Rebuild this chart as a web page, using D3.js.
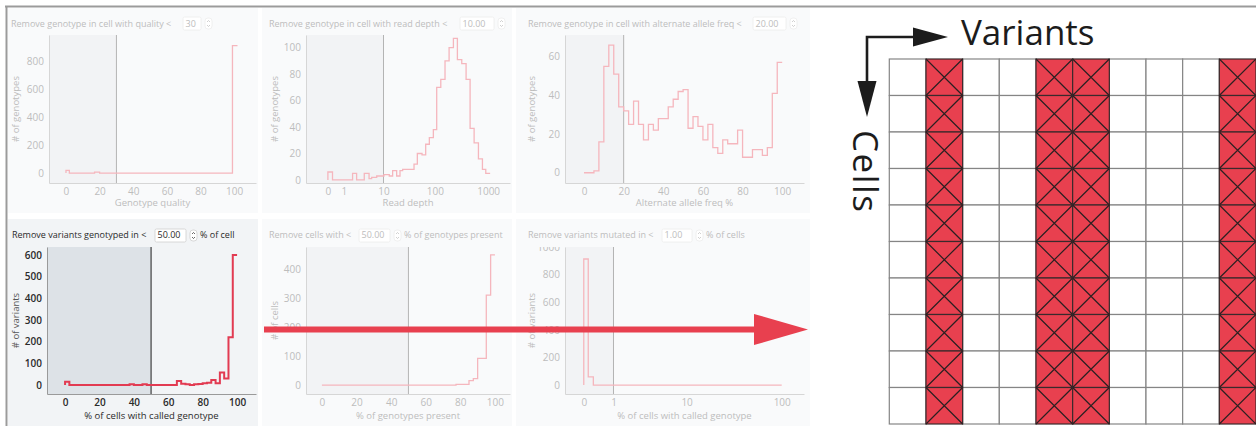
<!DOCTYPE html>
<html lang="en">
<head>
<meta charset="UTF-8">
<script src="https://d3js.org/d3.v7.min.js"></script>
<title>Genotype, variant and cell filters</title>
<style>
  body { margin: 0; background: #fff; }
  svg { display: block; font-family: "Open Sans", sans-serif; }
</style>
</head>
<body>
<div id="chart"></div>
<script>
// ---- data (bin starts, counts per bin, end of last bin) ----
let qualityBins = [0, 2, 17, 20, 99];
let qualityCounts = [19, 0, 7, 0, 910];
let qualityEnd = 102;

let depthBins = [0, 0.22, 1.9, 2.45, 3.8, 4.9, 5.6, 7.2, 10.2, 13.1, 15.3, 18.4, 21.4, 24.1, 40, 46.3,
                 56.9, 66.8, 78.4, 93.4, 108, 129, 155, 185, 223, 265, 320, 386, 459, 546, 658, 782, 903];
let depthCounts = [6, 0, 5, 0, 5, 1, 2, 3, 4, 3, 7, 3, 7, 8, 12, 20,
                   19, 27, 32, 38, 70, 76, 90, 100, 107, 91, 88, 76, 39, 28, 16, 8, 5];
let depthEnd = 1090;

// percentage histograms share the same 2.5% bins
let pctBins = [0, 2.5, 5, 7.5, 10, 12.5, 15, 17.5, 20, 22.5, 25, 27.5, 30, 32.5, 35, 37.5, 40, 42.5, 45, 47.5,
               50, 52.5, 55, 57.5, 60, 62.5, 65, 67.5, 70, 72.5, 75, 77.5, 80, 82.5, 85, 87.5, 90, 92.5, 95, 97.5];
let pctEnd = 100;

let afCounts = [0, 0, 1, 16, 55, 66, 51, 34, 32, 25, 37, 25, 17, 25, 22, 28, 28, 34, 38, 42,
                43, 23, 29, 24, 17, 25, 13, 10, 17, 15, 15, 22, 8, 8, 12, 12, 9, 13, 41, 57];
let genotypedCounts = [15, 0, 0, 0, 0, 0, 0, 0, 0, 0, 0, 0, 0, 0, 0, 4, 0, 0, 4, 0,
                       0, 0, 0, 0, 0, 0, 18, 6, 4, 0, 3, 5, 8, 10, 23, 8, 58, 30, 220, 600];
let presentCounts = [0, 0, 0, 0, 0, 0, 0, 0, 0, 0, 0, 0, 0, 0, 0, 0, 0, 0, 0, 0,
                     0, 0, 0, 0, 0, 0, 0, 0, 0, 0, 0, 2, 2, 2, 15, 22, 92, 92, 311, 450];

let mutatedBins = [0, 0.11, 0.25];
let mutatedCounts = [913, 59, 0];
let mutatedEnd = 100;

// tick labels
let pctTicks = [0, 20, 40, 60, 80, 100];
let depthTicks = [0, 1, 10, 100, 1000];
let mutatedTicks = [0, 1, 10, 100];

// matrix on the right
let variants = ["V1", "V2", "V3", "V4", "V5", "V6", "V7", "V8", "V9", "V10"];
let cells = ["C1", "C2", "C3", "C4", "C5", "C6", "C7", "C8", "C9", "C10"];
let removedVariants = ["V2", "V5", "V6", "V10"];

// ---- drawing ----
let W = 1256, H = 426;
let svg = d3.select("#chart").append("svg")
    .attr("width", W).attr("height", H)
    .attr("viewBox", "0 0 " + W + " " + H);

let faded = {bg: "#f9fafb", shade: "#f2f3f5", text: "#bdbdbd", axis: "#d6d6d6", thr: "#b4b4b4",
             line: "#f5b6bd", lineW: 1.3, weight: 400, box: "#ececec"};
let active = {bg: "#f2f4f6", shade: "#dde2e7", text: "#2a2a2a", axis: "#9a9a9a", thr: "#1e1e1e",
              line: "#e23b52", lineW: 2, weight: 600, box: "#cfcfcf"};

let row1 = {boxTop: 8, boxBottom: 213, top: 35, bottom: 183, titleY: 27, inputY: 17, labelY: 206};
let row2 = {boxTop: 219, boxBottom: 426, top: 247, bottom: 394, titleY: 238, inputY: 229, labelY: 419};

let panels = [
    {row: row1, boxL: 8, boxR: 258, left: 49, right: 256, st: faded, titleX: 11,
     title: "Remove genotype in cell with quality <", value: "30", inputX: 183, inputW: 18, suffix: "",
     x: d3.scaleLinear().domain([-10.1, 113]), xTicks: pctTicks, threshold: 30,
     yDomain: [-71, 986], yTicks: [0, 200, 400, 600, 800], yLabel: "# of genotypes", yLabelX: 16,
     xLabel: "Genotype quality", bins: qualityBins, counts: qualityCounts, end: qualityEnd},
    {row: row1, boxL: 262, boxR: 512, left: 306, right: 510, st: faded, titleX: 269,
     title: "Remove genotype in cell with read depth <", value: "10.00", inputX: 460, inputW: 34, suffix: "",
     x: d3.scaleSymlog().constant(1).domain([-1.57, 2569]), xTicks: depthTicks, threshold: 10,
     yDomain: [-2.3, 109.6], yTicks: [0, 20, 40, 60, 80, 100], yLabel: "# of genotypes", yLabelX: 275,
     xLabel: "Read depth", bins: depthBins, counts: depthCounts, end: depthEnd},
    {row: row1, boxL: 516, boxR: 810, left: 565, right: 804, st: faded, titleX: 528,
     title: "Remove genotype in cell with alternate allele freq <", value: "20.00", inputX: 753, inputW: 33, suffix: "",
     x: d3.scaleLinear().domain([-9.6, 111]), xTicks: pctTicks, threshold: 20,
     yDomain: [-5.3, 71.2], yTicks: [0, 20, 40, 60], yLabel: "# of genotypes", yLabelX: 532,
     xLabel: "Alternate allele freq %", bins: pctBins, counts: afCounts, end: pctEnd},
    {row: row2, boxL: 8, boxR: 258, left: 47, right: 256, st: active, titleX: 12,
     title: "Remove variants genotyped in <", value: "50.00", inputX: 155, inputW: 31, suffix: "% of cell",
     x: d3.scaleLinear().domain([-10.5, 111]), xTicks: pctTicks, threshold: 50,
     yDomain: [-41.5, 637], yTicks: [0, 100, 200, 300, 400, 500, 600], yLabel: "# of variants", yLabelX: 16,
     xLabel: "% of cells with called genotype", bins: pctBins, counts: genotypedCounts, end: pctEnd},
    {row: row2, boxL: 262, boxR: 512, left: 306, right: 510, st: faded, titleX: 269,
     title: "Remove cells with <", value: "50.00", inputX: 359, inputW: 31, suffix: "% of genotypes present",
     x: d3.scaleLinear().domain([-9.2, 108.7]), xTicks: pctTicks, threshold: 50,
     yDomain: [-31, 477], yTicks: [0, 100, 200, 300, 400], yLabel: "# of cells", yLabelX: 275,
     xLabel: "% of genotypes present", bins: pctBins, counts: presentCounts, end: pctEnd},
    {row: row2, boxL: 516, boxR: 810, left: 565, right: 804, st: faded, titleX: 528, clipTop: true,
     title: "Remove variants mutated in <", value: "1.00", inputX: 662, inputW: 30, suffix: "% of cells",
     x: d3.scaleSymlog().constant(1).domain([-0.549, 168.8]), xTicks: mutatedTicks, threshold: 1,
     yDomain: [-65, 1000], yTicks: [0, 200, 400, 600, 800, 1000], yLabel: "# of variants", yLabelX: 532,
     xLabel: "% of cells with called genotype", bins: mutatedBins, counts: mutatedCounts, end: mutatedEnd}
];

function drawPanel(p, i) {
    let r = p.row, st = p.st;
    let textWeight = st.weight == 600 ? 500 : 400;
    let g = svg.append("g");

    g.append("rect")
        .attr("x", p.boxL).attr("y", r.boxTop)
        .attr("width", p.boxR - p.boxL).attr("height", r.boxBottom - r.boxTop)
        .attr("fill", st.bg);

    let x = p.x.range([p.left, p.right]);
    let y = d3.scaleLinear().domain(p.yDomain).range([r.bottom, r.top]);

    // filtered-out region
    g.append("rect")
        .attr("x", p.left).attr("y", r.top)
        .attr("width", x(p.threshold) - p.left).attr("height", r.bottom - r.top)
        .attr("fill", st.shade);

    // title with the input box
    g.append("text")
        .attr("x", p.titleX).attr("y", r.titleY)
        .attr("font-size", 9).attr("fill", st.text).attr("font-weight", textWeight)
        .text(p.title);
    g.append("rect")
        .attr("x", p.inputX).attr("y", r.inputY)
        .attr("width", p.inputW).attr("height", 13).attr("rx", 1.5)
        .attr("fill", "#fff").attr("stroke", st.box).attr("stroke-width", 0.8);
    g.append("text")
        .attr("x", p.inputX + 2.5).attr("y", r.titleY)
        .attr("font-size", 9).attr("fill", st.text).attr("font-weight", textWeight)
        .text(p.value);
    let sx = p.inputX + p.inputW + 4;
    g.append("rect")
        .attr("x", sx).attr("y", r.inputY + 1)
        .attr("width", 7).attr("height", 11).attr("rx", 3)
        .attr("fill", "#fff").attr("stroke", st.box).attr("stroke-width", 0.8);
    g.append("path")
        .attr("d", "M" + (sx + 2) + "," + (r.inputY + 5) + "l1.5,-1.5l1.5,1.5M" + (sx + 2) + "," + (r.inputY + 8) + "l1.5,1.5l1.5,-1.5")
        .attr("fill", "none").attr("stroke", st.text).attr("stroke-width", 0.7);
    if (p.suffix) {
        g.append("text")
            .attr("x", sx + 10).attr("y", r.titleY)
            .attr("font-size", 9).attr("fill", st.text).attr("font-weight", textWeight)
            .text(p.suffix);
    }

    // axes
    let xAxis = g.append("g")
        .attr("transform", "translate(0," + r.bottom + ")")
        .call(d3.axisBottom(x).tickValues(p.xTicks).tickFormat(d3.format("d")).tickSize(0).tickPadding(5));
    let yAxis = g.append("g")
        .attr("transform", "translate(" + p.left + ",0)")
        .call(d3.axisLeft(y).tickValues(p.yTicks).tickFormat(d3.format("d")).tickSize(0).tickPadding(5));
    [xAxis, yAxis].forEach(function(a) {
        a.attr("font-family", null).attr("font-size", null);
        a.select(".domain").attr("stroke", st.axis).attr("stroke-width", 1);
        a.selectAll("text").attr("font-size", 10).attr("fill", st.text).attr("font-weight", st.weight);
    });
    if (p.clipTop) {
        // the top label sits at the edge of the plot and is cut there; clip is in the axis' own coordinates
        let id = "clip" + i;
        svg.append("clipPath").attr("id", id).append("rect")
            .attr("x", -60).attr("y", r.top).attr("width", 62).attr("height", r.bottom - r.top + 20);
        yAxis.attr("clip-path", "url(#" + id + ")");
    }

    // threshold
    g.append("line")
        .attr("x1", x(p.threshold)).attr("x2", x(p.threshold))
        .attr("y1", r.top).attr("y2", r.bottom)
        .attr("stroke", st.thr).attr("stroke-width", 1);

    // axis labels
    g.append("text")
        .attr("x", (p.left + p.right) / 2).attr("y", r.labelY)
        .attr("text-anchor", "middle").attr("font-size", 9.5)
        .attr("fill", st.text).attr("font-weight", textWeight)
        .text(p.xLabel);
    g.append("text")
        .attr("transform", "translate(" + p.yLabelX + "," + ((r.top + r.bottom) / 2) + ") rotate(-90)")
        .attr("text-anchor", "middle").attr("dominant-baseline", "middle").attr("font-size", 9.5)
        .attr("fill", st.weight == 600 ? "#555" : st.text)
        .text(p.yLabel);

    // step histogram
    let pts = [[p.bins[0], 0]];
    p.bins.forEach(function(b, k) { pts.push([b, p.counts[k]]); });
    pts.push([p.end, p.counts[p.counts.length - 1]]);
    let line = d3.line()
        .x(function(d) { return x(d[0]); })
        .y(function(d) { return y(d[1]); })
        .curve(d3.curveStepAfter);
    g.append("path")
        .attr("d", line(pts))
        .attr("fill", "none")
        .attr("stroke", st.line)
        .attr("stroke-width", st.lineW);
}

panels.forEach(drawPanel);

// frame lines on top / left
svg.append("line").attr("x1", 5).attr("x2", W).attr("y1", 6.5).attr("y2", 6.5)
    .attr("stroke", "#9b9b9b").attr("stroke-width", 2);
svg.append("line").attr("x1", 6.5).attr("x2", 6.5).attr("y1", 6).attr("y2", H)
    .attr("stroke", "#9b9b9b").attr("stroke-width", 2);

// big red arrow across the lower panels
let red = "#e8404f";
svg.append("line").attr("x1", 264).attr("x2", 758).attr("y1", 329.5).attr("y2", 329.5)
    .attr("stroke", red).attr("stroke-width", 6);
svg.append("path").attr("d", "M754,314L808,329.5L754,345Z").attr("fill", red);

// ---- variant x cell matrix ----
let gx = d3.scaleBand().domain(variants).range([889.3, 1256]);
let gy = d3.scaleBand().domain(cells).range([59, 424]);
let grid = svg.append("g");
let cellData = [];
cells.forEach(function(c) {
    variants.forEach(function(v) { cellData.push({c: c, v: v, removed: removedVariants.indexOf(v) >= 0}); });
});
grid.selectAll("rect.white")
    .data(cellData.filter(function(d) { return !d.removed; }))
    .enter().append("rect")
    .attr("x", function(d) { return gx(d.v); })
    .attr("y", function(d) { return gy(d.c); })
    .attr("width", gx.bandwidth()).attr("height", gy.bandwidth())
    .attr("fill", "#fff").attr("stroke", "#858585").attr("stroke-width", 1.2);
let redCells = grid.selectAll("g.red")
    .data(cellData.filter(function(d) { return d.removed; }))
    .enter().append("g");
redCells.append("rect")
    .attr("x", function(d) { return gx(d.v); })
    .attr("y", function(d) { return gy(d.c); })
    .attr("width", gx.bandwidth()).attr("height", gy.bandwidth())
    .attr("fill", red).attr("stroke", "#3a2a2c").attr("stroke-width", 1.2);
redCells.append("path")
    .attr("d", function(d) {
        let x0 = gx(d.v), y0 = gy(d.c), w = gx.bandwidth(), h = gy.bandwidth();
        return "M" + x0 + "," + y0 + "L" + (x0 + w) + "," + (y0 + h) +
               "M" + (x0 + w) + "," + y0 + "L" + x0 + "," + (y0 + h);
    })
    .attr("stroke", "#2b2022").attr("stroke-width", 1.2).attr("fill", "none");

// axis arrows and titles of the matrix
let ink = "#1c1c1c";
svg.append("path").attr("d", "M867,100V37H916").attr("fill", "none").attr("stroke", ink).attr("stroke-width", 2.6);
svg.append("path").attr("d", "M913,27.5L948,37L913,46.5Z").attr("fill", ink);
svg.append("path").attr("d", "M857.5,81L867,117L876.5,81Z").attr("fill", ink);
svg.append("text").attr("x", 961).attr("y", 45)
    .attr("font-size", 35).attr("fill", ink).text("Variants");
svg.append("text").attr("transform", "translate(853,130) rotate(90)")
    .attr("font-size", 35).attr("letter-spacing", 1.5).attr("fill", ink).text("Cells");
</script>
</body>
</html>
